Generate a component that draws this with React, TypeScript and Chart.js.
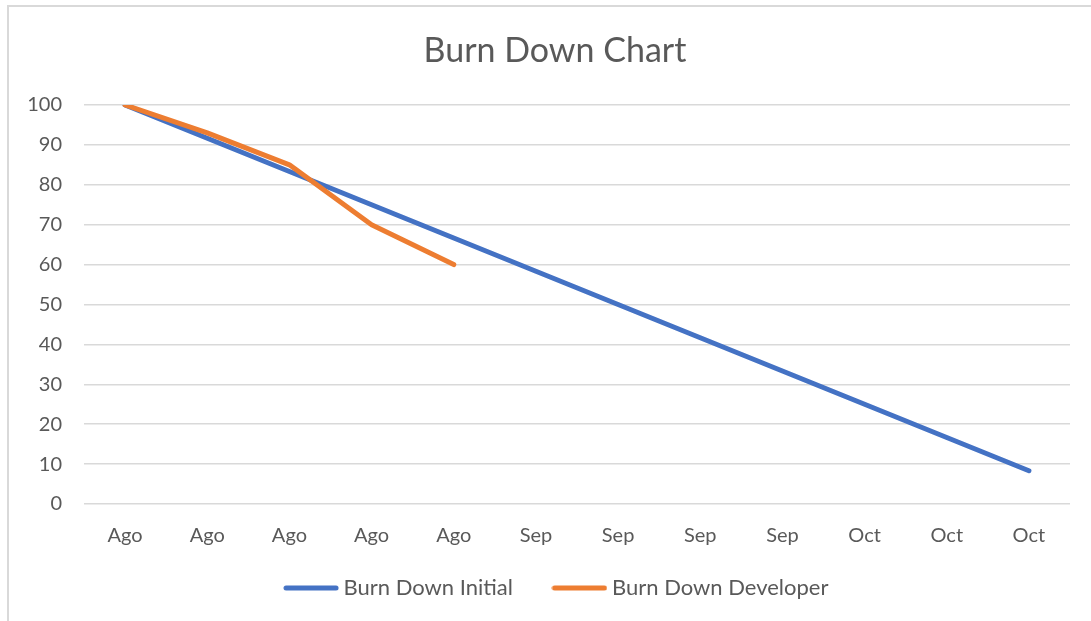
import React, { useEffect, useRef } from "react";
import { Chart, registerables } from "chart.js";

Chart.register(...registerables);

const categories = ["Ago", "Ago", "Ago", "Ago", "Ago", "Sep", "Sep", "Sep", "Sep", "Oct", "Oct", "Oct"];
const initialValues = [100, 91.67, 83.33, 75, 66.67, 58.33, 50, 41.67, 33.33, 25, 16.67, 8.33];
const developerValues = [100, 93, 85, 70, 60];
const seriesNames = ["Burn Down Initial", "Burn Down Developer"];
const titleText = "Burn Down Chart";

const TEXT = "#595959";
const GRID = "#d9d9d9";
const FONT = "Lato";
const BLUE = "#4472C4";
const ORANGE = "#ED7D31";

const legendShift = {
  id: "legendShift",
  afterLayout(chart: any) {
    const lg = chart.legend;
    if (lg) {
      lg.top -= 16;
      lg.bottom -= 16;
      lg.left += 4;
      lg.right += 4;
    }
  },
};

function makeLegendLine(color: string): HTMLCanvasElement {
  const c = document.createElement("canvas");
  c.width = 56;
  c.height = 6;
  const ctx = c.getContext("2d");
  if (ctx) {
    ctx.strokeStyle = color;
    ctx.lineWidth = 5;
    ctx.lineCap = "round";
    ctx.beginPath();
    ctx.moveTo(3, 3);
    ctx.lineTo(53, 3);
    ctx.stroke();
  }
  return c;
}

export default function App() {
  const ref = useRef<HTMLCanvasElement | null>(null);

  useEffect(() => {
    if (!ref.current) return;
    const chart = new Chart(ref.current, {
      type: "line",
      data: {
        labels: categories,
        datasets: [
          {
            label: seriesNames[0],
            data: initialValues,
            borderColor: BLUE,
            backgroundColor: BLUE,
            borderWidth: 5,
            pointRadius: 0,
            pointStyle: makeLegendLine(BLUE),
            borderCapStyle: "round",
            borderJoinStyle: "round",
            tension: 0,
            order: 1,
          },
          {
            label: seriesNames[1],
            data: developerValues,
            borderColor: ORANGE,
            backgroundColor: ORANGE,
            borderWidth: 5,
            pointRadius: 0,
            pointStyle: makeLegendLine(ORANGE),
            borderCapStyle: "round",
            borderJoinStyle: "round",
            tension: 0,
            order: 0,
          },
        ],
      },
      options: {
        responsive: false,
        animation: false,
        layout: { padding: { left: 27, right: 8, top: 0, bottom: 0 } },
        plugins: {
          tooltip: { enabled: false },
          title: {
            display: true,
            text: titleText,
            color: TEXT,
            font: { family: FONT, size: 34, weight: "normal" },
            padding: { top: 31, bottom: 33.2 },
          },
          legend: {
            position: "bottom",
            maxHeight: 73,
            labels: {
              usePointStyle: true,
              pointStyleWidth: 43,
              color: TEXT,
              font: { family: FONT, size: 22 },
              padding: 45,
              sort: (a: any, b: any) => a.datasetIndex - b.datasetIndex,
            },
          },
        },
        scales: {
          x: {
            offset: true,
            grid: { display: false, drawTicks: false },
            border: { display: false },
            ticks: {
              color: TEXT,
              font: { family: FONT, size: 20 },
              padding: 20,
              autoSkip: false,
              maxRotation: 0,
            },
            afterFit: (scale: any) => {
              scale.height = 44;
            },
          },
          y: {
            min: 0,
            max: 100,
            grid: { color: GRID, lineWidth: 1.5, drawTicks: false },
            border: { display: false },
            ticks: {
              stepSize: 10,
              color: TEXT,
              font: { family: FONT, size: 20 },
              padding: 22,
            },
            afterFit: (scale: any) => {
              scale.width = 57;
            },
          },
          yRight: {
            type: "linear",
            position: "right",
            display: true,
            grid: { display: false, drawTicks: false },
            border: { display: false },
            ticks: { display: false },
            afterFit: (scale: any) => {
              scale.width = 13;
            },
          },
        },
      },
      plugins: [legendShift],
    });
    return () => chart.destroy();
  }, []);

  return (
    <div style={{ position: "fixed", left: 0, top: 0, width: 1091, height: 621, background: "#fff" }}>
      <div
        style={{
          position: "absolute",
          left: 7,
          top: 5,
          width: 1200,
          height: 700,
          border: `2px solid ${GRID}`,
          boxSizing: "border-box",
        }}
      />
      <canvas ref={ref} width={1091} height={621} style={{ position: "absolute", left: 0, top: 0 }} />
    </div>
  );
}
